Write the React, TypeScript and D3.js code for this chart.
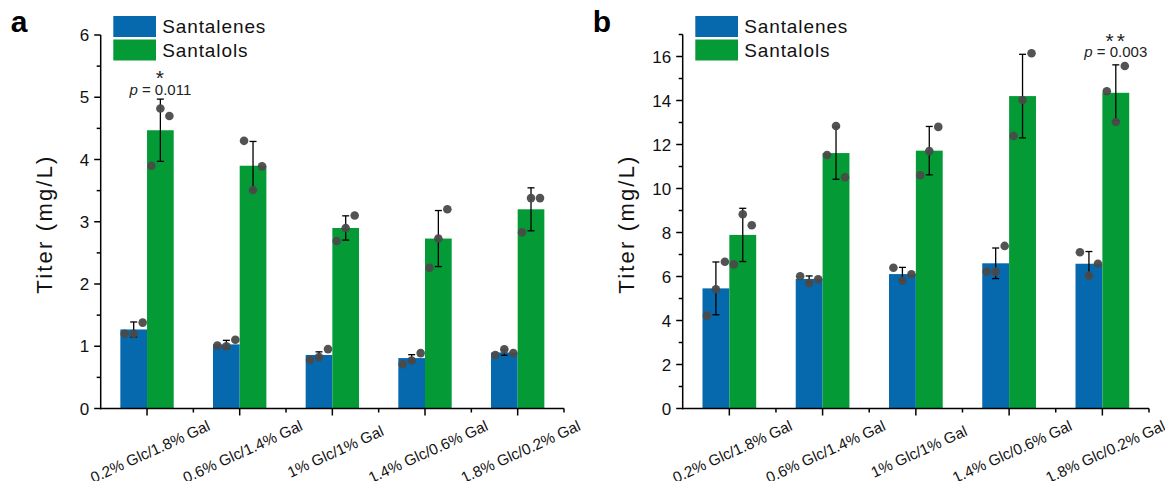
import React from "react";
import { scaleLinear, range } from "d3";

const categories = [
  "0.2% Glc/1.8% Gal",
  "0.6% Glc/1.4% Gal",
  "1% Glc/1% Gal",
  "1.4% Glc/0.6% Gal",
  "1.8% Glc/0.2% Gal",
];
const seriesNames = ["Santalenes", "Santalols"];

// panel a
const aSantalenesMean = [1.27, 1.03, 0.86, 0.81, 0.9];
const aSantalenesErr = [0.12, 0.065, 0.05, 0.055, 0.045];
const aSantalenesPts = [
  [1.2, 1.2, 1.38],
  [1.01, 1.0, 1.105],
  [0.78, 0.825, 0.954],
  [0.71, 0.77, 0.89],
  [0.86, 0.95, 0.89],
];
const aSantalolsMean = [4.47, 3.9, 2.9, 2.73, 3.2];
const aSantalolsErr = [0.5, 0.39, 0.195, 0.45, 0.345];
const aSantalolsPts = [
  [3.9, 4.82, 4.7],
  [4.3, 3.51, 3.89],
  [2.69, 2.9, 3.1],
  [2.26, 2.73, 3.2],
  [2.83, 3.38, 3.38],
];
const aYTicks = [0, 1, 2, 3, 4, 5, 6];

// panel b
const bSantalenesMean = [5.46, 5.89, 6.11, 6.6, 6.58];
const bSantalenesErr = [1.2, 0.135, 0.305, 0.695, 0.555];
const bSantalenesPts = [
  [4.22, 5.42, 6.67],
  [6.01, 5.7, 5.87],
  [6.4, 5.81, 6.1],
  [6.22, 6.22, 7.39],
  [7.1, 6.04, 6.58],
];
const bSantalolsMean = [7.89, 11.61, 11.72, 14.2, 14.35];
const bSantalolsErr = [1.21, 1.19, 1.1, 1.9, 1.27];
const bSantalolsPts = [
  [6.55, 8.83, 8.33],
  [11.52, 12.84, 10.51],
  [10.6, 11.7, 12.8],
  [12.39, 14.02, 16.15],
  [14.42, 13.02, 15.57],
];
const bYTicks = [0, 2, 4, 6, 8, 10, 12, 14, 16];

const BLUE = "#0669ad";
const GREEN = "#049a35";
const DOT = "#4a4a4a";
const FONT = "Arial, 'Liberation Sans', sans-serif";

type Series = { mean: number[]; err: number[]; pts: number[][]; color: string };

type PanelProps = {
  letter: string;
  ox: number; // y axis x
  xEnd: number;
  yTop: number;
  yMax: number;
  majorTicks: number[];
  minorStep: number;
  series: Series[];
  sig: { idx: number; stars: string; p: string; starY: number; pY: number };
};

function Panel(props: PanelProps) {
  const { letter, ox, xEnd, yTop, yMax, majorTicks, minorStep, series, sig } = props;
  const base = 408.5;
  const x = scaleLinear().domain([0.5, 5.5]).range([ox, xEnd]);
  const y = scaleLinear().domain([0, yMax]).range([base, yTop]);
  const step = x(2) - x(1);
  const barW = step * 0.288;
  const minor = range(minorStep, yMax + 0.001, minorStep).filter(
    (v) => !majorTicks.some((m) => Math.abs(m - v) < 1e-6)
  );
  const jitter = [-9, 0, 9];

  return (
    <g fontFamily={FONT}>
      <text x={ox - 90} y={32} fontSize={30} fontWeight="bold">
        {letter}
      </text>

      {/* legend */}
      {series.map((s, k) => (
        <g key={k}>
          <rect x={ox + 12.6} y={16 + k * 23.5} width={42.7} height={21} fill={s.color} />
          <text
            x={ox + 61.5}
            y={26.5 + k * 23.5}
            dy="0.35em"
            fontSize={19}
            letterSpacing={0.9}
            fill="#111"
          >
            {seriesNames[k]}
          </text>
        </g>
      ))}

      {/* bars */}
      {categories.map((c, i) =>
        series.map((s, k) => {
          const bx = x(i + 1) + (k - 1) * barW;
          return (
            <rect
              key={c + k}
              x={bx}
              y={y(s.mean[i])}
              width={barW}
              height={base - y(s.mean[i])}
              fill={s.color}
            />
          );
        })
      )}

      {/* error bars */}
      {categories.map((c, i) =>
        series.map((s, k) => {
          const cx = x(i + 1) + (k - 0.5) * barW;
          const t = y(s.mean[i] + s.err[i]);
          const b = y(s.mean[i] - s.err[i]);
          return (
            <g key={"e" + c + k} stroke="#000" strokeWidth={1.3}>
              <line x1={cx} x2={cx} y1={t} y2={b} />
              <line x1={cx - 3.5} x2={cx + 3.5} y1={t} y2={t} />
              <line x1={cx - 3.5} x2={cx + 3.5} y1={b} y2={b} />
            </g>
          );
        })
      )}

      {/* points */}
      {categories.map((c, i) =>
        series.map((s, k) => {
          const cx = x(i + 1) + (k - 0.5) * barW;
          return s.pts[i].map((v, j) => (
            <circle
              key={"p" + c + k + j}
              cx={cx + jitter[j]}
              cy={y(v)}
              r={4.3}
              fill={DOT}
              fillOpacity={0.95}
            />
          ));
        })
      )}

      {/* y axis */}
      <line x1={ox} x2={ox} y1={base + 0.75} y2={yTop} stroke="#000" strokeWidth={1.5} />
      {majorTicks.map((t) => (
        <g key={"yt" + t}>
          <line x1={ox - 6.5} x2={ox} y1={y(t)} y2={y(t)} stroke="#000" strokeWidth={1.5} />
          <text
            x={ox - 11.5}
            y={y(t)}
            dy="0.36em"
            textAnchor="end"
            fontSize={17}
            fill="#111"
          >
            {t}
          </text>
        </g>
      ))}
      {minor.map((t) => (
        <line key={"ym" + t} x1={ox - 4} x2={ox} y1={y(t)} y2={y(t)} stroke="#000" strokeWidth={1.5} />
      ))}
      <text
        transform={`translate(${ox - 48.5},224) rotate(-90)`}
        textAnchor="middle"
        fontSize={22}
        letterSpacing={2.2}
        fill="#111"
      >
        Titer (mg/L)
      </text>

      {/* x axis */}
      <line x1={ox - 0.75} x2={xEnd} y1={base} y2={base} stroke="#000" strokeWidth={1.5} />
      {categories.map((c, i) => (
        <g key={"xt" + c}>
          <line x1={x(i + 1)} x2={x(i + 1)} y1={base} y2={base + 7} stroke="#000" strokeWidth={1.5} />
          <line
            x1={x(i + 1.5)}
            x2={x(i + 1.5)}
            y1={base}
            y2={base + 4}
            stroke="#000"
            strokeWidth={1.5}
          />
          <text
            transform={`translate(${x(i + 1) + 3},451.5) rotate(-24.5)`}
            textAnchor="middle"
            dy="0.35em"
            fontSize={15.3}
            fill="#111"
          >
            {c}
          </text>
        </g>
      ))}

      {/* significance */}
      <text
        x={x(sig.idx + 1) + barW / 2 + 1}
        y={sig.starY}
        textAnchor="middle"
        fontSize={21}
        letterSpacing={3}
        fill="#222"
      >
        {sig.stars}
      </text>
      <text
        x={x(sig.idx + 1) + barW / 2}
        y={sig.pY}
        textAnchor="middle"
        fontSize={15}
        fill="#222"
      >
        <tspan fontStyle="italic">p</tspan>
        {" = " + sig.p}
      </text>
    </g>
  );
}

export default function App() {
  return (
    <svg
      width={1165}
      height={481}
      style={{ position: "absolute", left: 0, top: 0, background: "#fff" }}
    >
      <Panel
        letter="a"
        ox={100.7}
        xEnd={564}
        yTop={35}
        yMax={6}
        majorTicks={aYTicks}
        minorStep={0.5}
        series={[
          { mean: aSantalenesMean, err: aSantalenesErr, pts: aSantalenesPts, color: BLUE },
          { mean: aSantalolsMean, err: aSantalolsErr, pts: aSantalolsPts, color: GREEN },
        ]}
        sig={{ idx: 0, stars: "*", p: "0.011", starY: 85, pY: 95 }}
      />
      <Panel
        letter="b"
        ox={682.7}
        xEnd={1149}
        yTop={34.5}
        yMax={17}
        majorTicks={bYTicks}
        minorStep={1}
        series={[
          { mean: bSantalenesMean, err: bSantalenesErr, pts: bSantalenesPts, color: BLUE },
          { mean: bSantalolsMean, err: bSantalolsErr, pts: bSantalolsPts, color: GREEN },
        ]}
        sig={{ idx: 4, stars: "**", p: "0.003", starY: 48, pY: 57 }}
      />
    </svg>
  );
}
